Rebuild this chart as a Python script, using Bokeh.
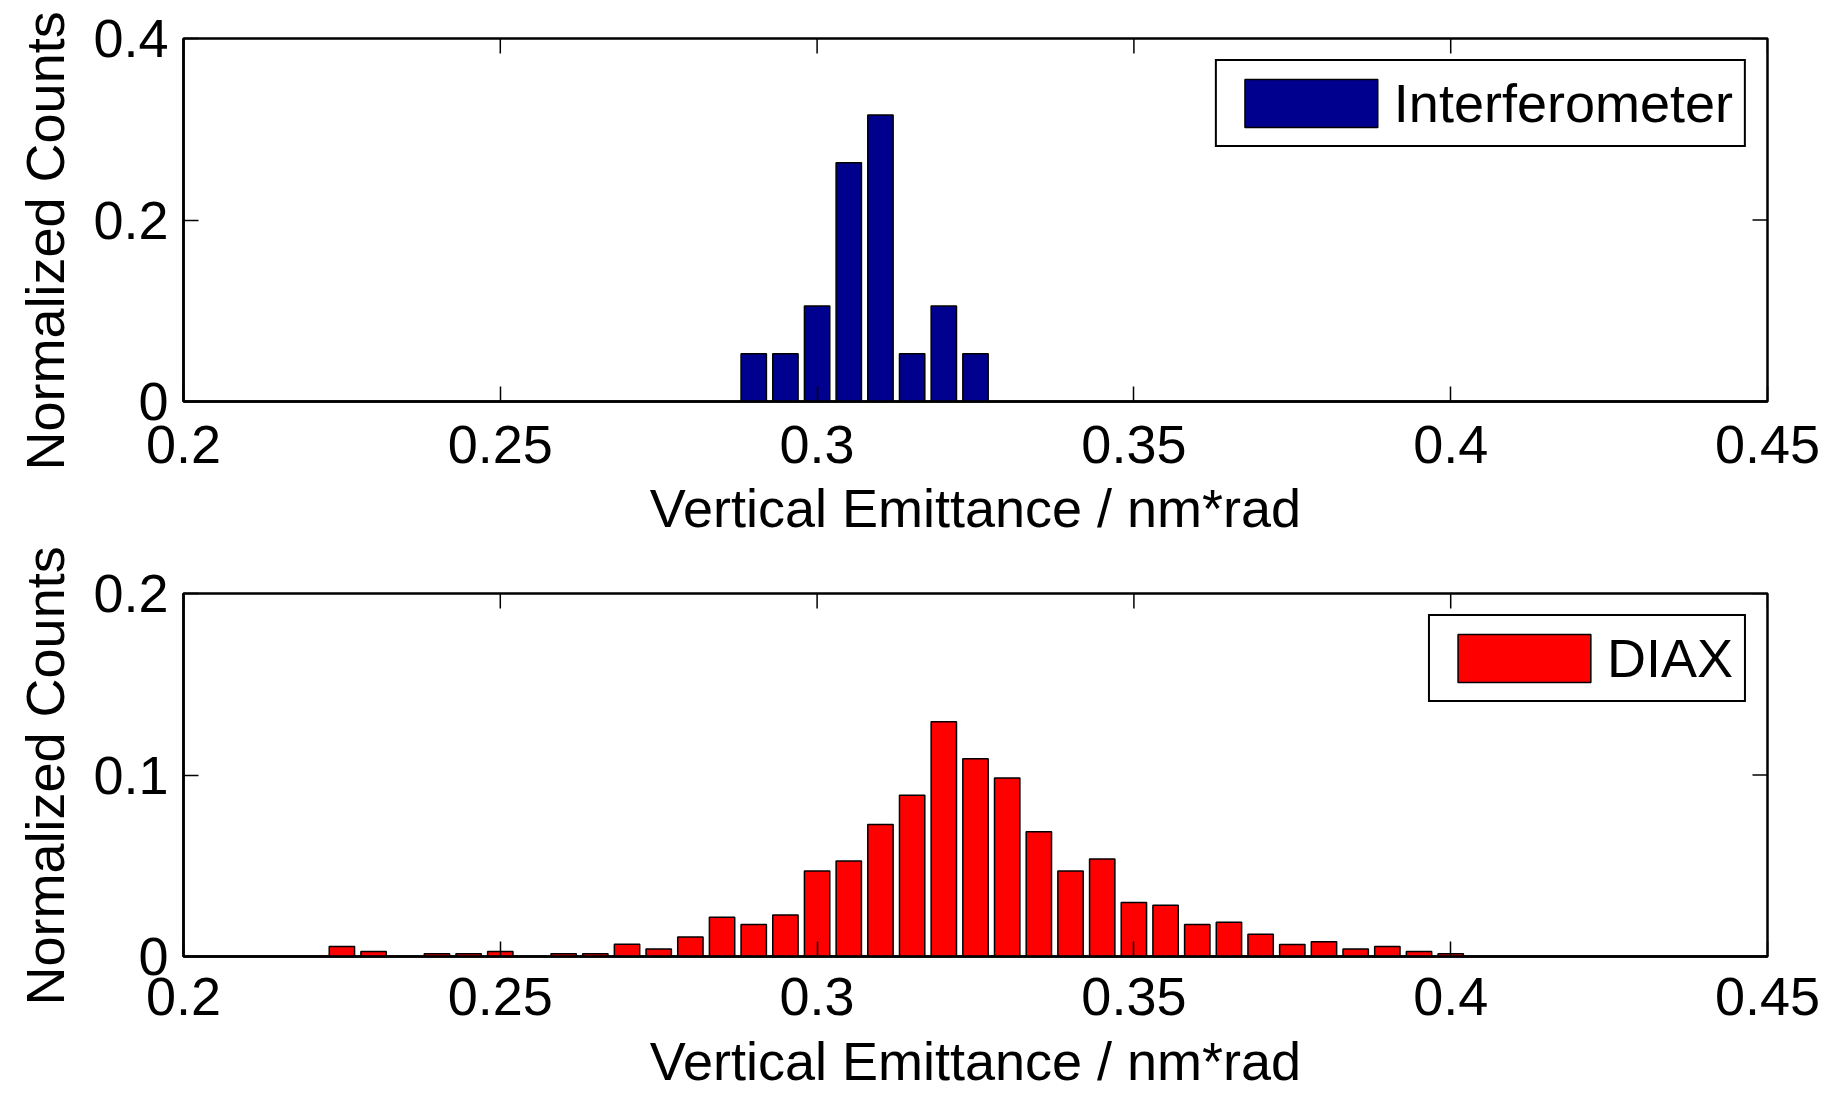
from bokeh.plotting import figure
from bokeh.layouts import column
from bokeh.models import Range1d, FixedTicker, Legend, LegendItem, Title
from bokeh.embed import file_html
from bokeh.resources import INLINE

# Interferometer: histogram bin centres (nm*rad) and normalized counts
interf_emittance = [0.290, 0.295, 0.300, 0.305, 0.310, 0.315, 0.320, 0.325]
interf_norm_counts = [0.0526, 0.0526, 0.1053, 0.2632, 0.3158, 0.0526, 0.1053, 0.0526]

# DIAX: histogram bin centres (nm*rad) and normalized counts
diax_emittance = [0.225, 0.230, 0.235, 0.240, 0.245, 0.250, 0.255, 0.260,
                  0.265, 0.270, 0.275, 0.280, 0.285, 0.290, 0.295, 0.300,
                  0.305, 0.310, 0.315, 0.320, 0.325, 0.330, 0.335, 0.340,
                  0.345, 0.350, 0.355, 0.360, 0.365, 0.370, 0.375, 0.380,
                  0.385, 0.390, 0.395, 0.400]
diax_norm_counts = [0.0055, 0.0027, 0.0, 0.0015, 0.0015, 0.0027, 0.0, 0.0015,
                    0.0015, 0.0068, 0.0042, 0.0108, 0.0216, 0.0176, 0.0229, 0.0471,
                    0.0526, 0.0727, 0.0888, 0.1293, 0.1090, 0.0984, 0.0687, 0.0471,
                    0.0537, 0.0297, 0.0282, 0.0176, 0.0189, 0.0123, 0.0066, 0.0081,
                    0.0042, 0.0055, 0.0027, 0.0015]

x_ticks = [0.2, 0.25, 0.3, 0.35, 0.4, 0.45]
x_tick_labels = ["0.2", "0.25", "0.3", "0.35", "0.4", "0.45"]
top_y_ticks = [0.0, 0.2, 0.4]
top_y_tick_labels = ["0", "0.2", "0.4"]
bottom_y_ticks = [0.0, 0.1, 0.2]
bottom_y_tick_labels = ["0", "0.1", "0.2"]

X_LABEL = "Vertical Emittance / nm*rad"
Y_LABEL = "Normalized Counts"

FONT = "Liberation Sans"
FS = "54px"
BIN_WIDTH = 0.005
X_MIN, X_MAX = 0.2, 0.45
FRAME_W, FRAME_H = 1584, 364
TICK_LEN = 15          # inward tick length, px
LINE_W = 2.5


def style_axis(ax, ticks, labels):
    ax.ticker = FixedTicker(ticks=ticks, minor_ticks=[])
    ax.major_label_overrides = {t: s for t, s in zip(ticks, labels)}
    ax.major_tick_in = TICK_LEN
    ax.major_tick_out = 0
    ax.minor_tick_line_color = None
    ax.axis_line_width = LINE_W
    ax.axis_line_color = "black"
    ax.major_tick_line_width = 1.5
    ax.major_tick_line_color = "black"
    ax.major_label_text_font = FONT
    ax.major_label_text_font_size = FS
    ax.major_label_text_color = "black"
    ax.axis_label_text_font = FONT
    ax.axis_label_text_font_size = FS
    ax.axis_label_text_font_style = "normal"
    ax.axis_label_text_color = "black"


def make_panel(xs, ys, fill, name, yticks, ylabels, ymax, height, border_top,
               border_bottom, tick_gap, xlabel_gap, ylabel_offset):
    p = figure(width=1826, height=height,
               x_range=Range1d(X_MIN, X_MAX), y_range=Range1d(0, ymax),
               output_backend="svg", toolbar_location=None,
               min_border_left=183, min_border_right=59,
               min_border_top=border_top, min_border_bottom=border_bottom)
    p.grid.visible = False
    p.outline_line_color = "black"
    p.outline_line_width = LINE_W
    p.outline_line_alpha = 1
    p.background_fill_color = "white"
    p.border_fill_color = "white"

    bars = p.vbar(x=xs, top=ys, bottom=0, width=0.8 * BIN_WIDTH,
                  fill_color=fill, line_color="black", line_width=1.5)

    # mirrored inward ticks on the top and right edges of the box
    dy = TICK_LEN * ymax / FRAME_H
    dx = TICK_LEN * (X_MAX - X_MIN) / FRAME_W
    p.segment(x0=x_ticks, x1=x_ticks, y0=[ymax] * len(x_ticks),
              y1=[ymax - dy] * len(x_ticks), line_color="black", line_width=1.5)
    p.segment(x0=[X_MAX] * len(yticks), x1=[X_MAX - dx] * len(yticks),
              y0=yticks, y1=yticks, line_color="black", line_width=1.5)

    xax = p.xaxis[0]
    yax = p.yaxis[0]
    style_axis(xax, x_ticks, x_tick_labels)
    style_axis(yax, yticks, ylabels)
    xax.major_label_standoff = tick_gap
    xax.axis_label = X_LABEL
    xax.axis_label_standoff = xlabel_gap
    yax.major_label_standoff = 15

    # y-axis title, set as a side title so it can sit off-centre
    p.add_layout(Title(text=Y_LABEL, align="left", vertical_align="top",
                       offset=ylabel_offset, standoff=28,
                       text_font=FONT, text_font_size=FS,
                       text_font_style="normal", text_color="black"), "left")

    legend = Legend(items=[LegendItem(label=name, renderers=[bars])],
                    location="top_right", margin=21, padding=11,
                    glyph_width=166, glyph_height=60, label_standoff=0,
                    border_line_color="black", border_line_width=2,
                    border_line_alpha=1,
                    background_fill_color="white", background_fill_alpha=1,
                    label_text_font=FONT, label_text_font_size=FS,
                    label_text_color="black")
    p.add_layout(legend)
    return p


p_top = make_panel(interf_emittance, interf_norm_counts, "#00008F", "Interferometer",
                   top_y_ticks, top_y_tick_labels, 0.4, 540, 38, 138,
                   tick_gap=24, xlabel_gap=12, ylabel_offset=-69)
p_bottom = make_panel(diax_emittance, diax_norm_counts, "#FF0000", "DIAX",
                      bottom_y_ticks, bottom_y_tick_labels, 0.2, 553, 53, 136,
                      tick_gap=21, xlabel_gap=13, ylabel_offset=-49)

page = column(p_top, p_bottom, spacing=0)

with open("out.html", "w") as f:
    f.write(file_html(page, INLINE, title="Vertical emittance histograms"))
